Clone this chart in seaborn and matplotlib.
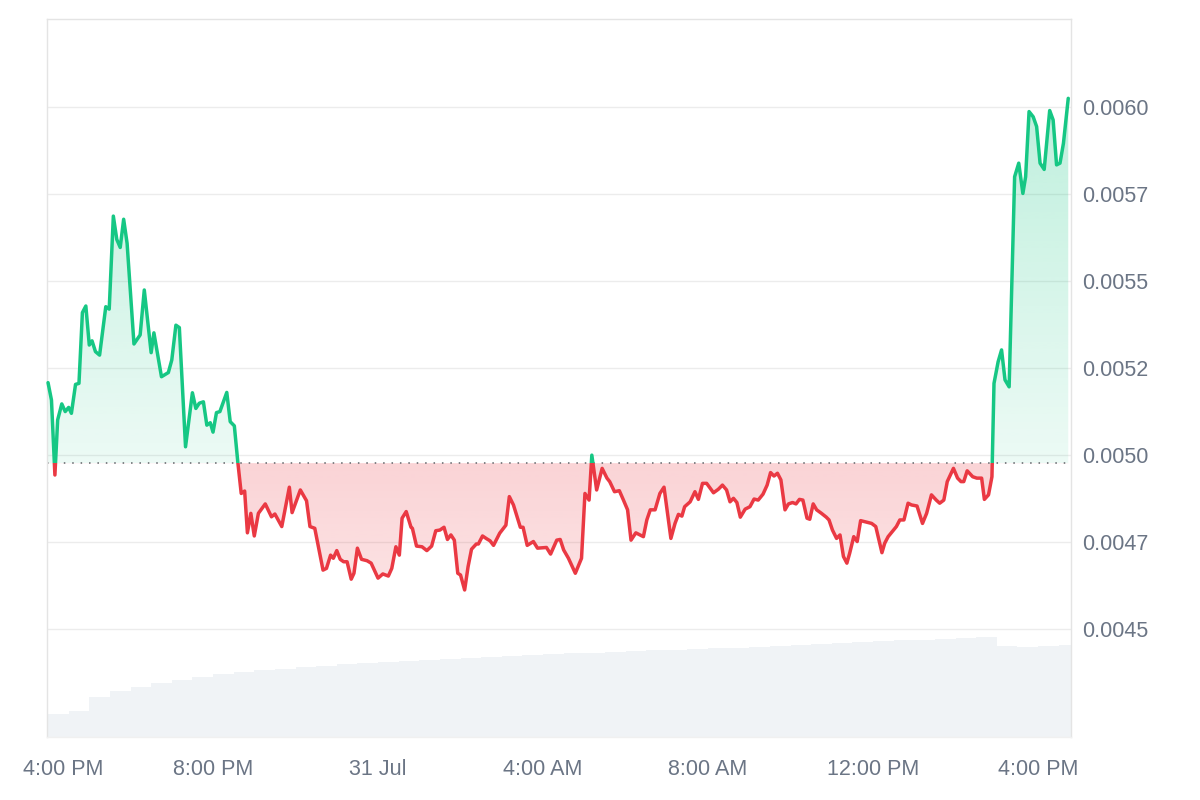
import numpy as np
import pandas as pd
import matplotlib
matplotlib.use("Agg")
import matplotlib.pyplot as plt
import matplotlib.transforms as mtransforms
import seaborn as sns
from matplotlib.patches import Rectangle
from matplotlib.path import Path
from matplotlib.colors import to_rgb

# ---------------- data ----------------
# minutes since 4:00 PM (30 Jul)
minutes = [0, 5, 10, 14, 20, 25, 30, 34, 40, 45,
           50, 55, 60, 64, 69, 75, 84, 89, 95, 100,
           105, 110, 115, 125, 134, 140, 150, 154, 165, 175,
           180, 186, 191, 200, 210, 215, 220, 226, 231, 236,
           240, 245, 250, 260, 265, 271, 276, 281, 286, 290,
           295, 300, 306, 316, 325, 330, 340, 351, 355, 367,
           376, 381, 388, 400, 405, 411, 415, 420, 425, 430,
           435, 441, 445, 450, 456, 464, 470, 480, 487, 495,
           500, 506, 511, 515, 521, 528, 530, 536, 544, 551,
           558, 564, 570, 576, 581, 586, 591, 596, 600, 606,
           611, 616, 623, 626, 632, 638, 643, 648, 657, 666,
           671, 677, 687, 691, 697, 706, 712, 725, 731, 740,
           745, 750, 757, 767, 776, 781, 787, 791, 798, 806,
           813, 817, 824, 831, 837, 843, 848, 855, 866, 871,
           876, 883, 890, 896, 906, 912, 917, 922, 926, 934,
           941, 946, 952, 958, 968, 975, 981, 987, 992, 997,
           1002, 1007, 1014, 1021, 1027, 1033, 1040, 1046, 1051, 1056,
           1061, 1066, 1072, 1077, 1083, 1088, 1093, 1098, 1104, 1108,
           1113, 1118, 1125, 1132, 1136, 1141, 1147, 1152, 1157, 1162,
           1166, 1172, 1177, 1182, 1188, 1198, 1204, 1213, 1217, 1222,
           1234, 1239, 1245, 1251, 1256, 1264, 1272, 1278, 1285, 1292,
           1297, 1303, 1308, 1317, 1323, 1328, 1332, 1337, 1345, 1351,
           1358, 1362, 1368, 1373, 1376, 1382, 1387, 1392, 1398, 1402,
           1406, 1412, 1418, 1422, 1427, 1433, 1438, 1443, 1449, 1457,
           1462, 1467, 1472, 1477, 1484]

prices = [0.005208, 0.005158, 0.004943, 0.005101, 0.005147, 0.005125, 0.005137, 0.005120, 0.005203, 0.005206,
          0.005409, 0.005428, 0.005316, 0.005328, 0.005297, 0.005287, 0.005426, 0.005419, 0.005686, 0.005619,
          0.005596, 0.005677, 0.005608, 0.005319, 0.005345, 0.005474, 0.005294, 0.005351, 0.005225, 0.005237,
          0.005273, 0.005373, 0.005366, 0.005024, 0.005179, 0.005134, 0.005149, 0.005153, 0.005086, 0.005093,
          0.005066, 0.005122, 0.005125, 0.005180, 0.005096, 0.005084, 0.004981, 0.004890, 0.004897, 0.004777,
          0.004833, 0.004768, 0.004833, 0.004860, 0.004823, 0.004831, 0.004795, 0.004908, 0.004835, 0.004900,
          0.004869, 0.004795, 0.004790, 0.004670, 0.004675, 0.004713, 0.004704, 0.004726, 0.004701, 0.004694,
          0.004694, 0.004644, 0.004661, 0.004733, 0.004701, 0.004697, 0.004690, 0.004647, 0.004659, 0.004653,
          0.004675, 0.004737, 0.004713, 0.004819, 0.004838, 0.004793, 0.004790, 0.004739, 0.004737, 0.004726,
          0.004739, 0.004783, 0.004785, 0.004793, 0.004758, 0.004771, 0.004756, 0.004661, 0.004656, 0.004613,
          0.004680, 0.004730, 0.004745, 0.004745, 0.004768, 0.004760, 0.004754, 0.004741, 0.004776, 0.004799,
          0.004881, 0.004857, 0.004793, 0.004793, 0.004741, 0.004752, 0.004733, 0.004735, 0.004716, 0.004756,
          0.004758, 0.004728, 0.004704, 0.004661, 0.004704, 0.004890, 0.004871, 0.005000, 0.004900, 0.004962,
          0.004934, 0.004924, 0.004895, 0.004898, 0.004871, 0.004843, 0.004756, 0.004777, 0.004766, 0.004814,
          0.004843, 0.004843, 0.004890, 0.004908, 0.004761, 0.004804, 0.004830, 0.004825, 0.004852, 0.004866,
          0.004895, 0.004873, 0.004919, 0.004919, 0.004892, 0.004902, 0.004914, 0.004900, 0.004866, 0.004876,
          0.004864, 0.004822, 0.004845, 0.004852, 0.004874, 0.004871, 0.004888, 0.004914, 0.004950, 0.004940,
          0.004948, 0.004929, 0.004843, 0.004860, 0.004864, 0.004860, 0.004873, 0.004871, 0.004819, 0.004816,
          0.004860, 0.004843, 0.004833, 0.004822, 0.004814, 0.004785, 0.004761, 0.004771, 0.004709, 0.004690,
          0.004718, 0.004766, 0.004752, 0.004812, 0.004809, 0.004804, 0.004795, 0.004720, 0.004747, 0.004766,
          0.004795, 0.004814, 0.004814, 0.004862, 0.004857, 0.004854, 0.004804, 0.004833, 0.004886, 0.004871,
          0.004862, 0.004871, 0.004924, 0.004962, 0.004934, 0.004924, 0.004924, 0.004955, 0.004938, 0.004934,
          0.004934, 0.004873, 0.004886, 0.004938, 0.005206, 0.005268, 0.005302, 0.005216, 0.005196, 0.005503,
          0.005799, 0.005838, 0.005751, 0.005799, 0.005986, 0.005971, 0.005943, 0.005838, 0.005820, 0.005989,
          0.005962, 0.005833, 0.005838, 0.005895, 0.006024]

baseline_price = 0.004977

# volume, half-hour buckets (arbitrary units)
vol_minutes = [30 * k for k in range(50)]
volumes = [23, 26, 40, 46, 50, 54, 57, 60, 63, 65,
           67, 68, 70, 71, 73, 74, 75, 76, 77, 78,
           79, 80, 81, 82, 83, 84, 84, 85, 86, 87,
           87, 88, 89, 89, 90, 91, 92, 93, 94, 95,
           96, 97, 97, 98, 99, 100, 91, 90, 91, 92]

y_ticks = [0.0045, 0.00475, 0.0050, 0.00525, 0.0055, 0.00575, 0.0060]
y_labels = ["0.0045", "0.0047", "0.0050", "0.0052", "0.0055", "0.0057", "0.0060"]
x_ticks = [0, 240, 480, 720, 960, 1200, 1440]
x_labels = ["4:00 PM", "8:00 PM", "31 Jul", "4:00 AM", "8:00 AM", "12:00 PM", "4:00 PM"]

# ---------------- style ----------------
GREEN = "#16c784"
RED = "#ea3943"
LABEL = "#6b7585"

sns.set_theme(style="white")
plt.rcParams["font.family"] = ["Liberation Sans", "DejaVu Sans"]

fig = plt.figure(figsize=(12, 8), dpi=100)
rect = [47 / 1200, 1 - 736.7 / 800, (1071 - 47) / 1200, (736.7 - 19) / 800]
ax_vol = fig.add_axes(rect, zorder=0)
ax = fig.add_axes(rect, zorder=1)
ax.set_facecolor("none")

xlim = (-1.5, 1488)
ylim = (0.0041919, 0.0062517)

# volume bars
ax_vol.bar(vol_minutes, volumes, width=30, align="edge", color="#f0f3f6", linewidth=0)
ax_vol.set_xlim(xlim)
ax_vol.set_ylim(0, max(volumes) * 7.18)
ax_vol.axis("off")

df = pd.DataFrame({"minute": minutes, "price": prices})

# gradient fills clipped to area between line and baseline
poly = ax.fill_between(df["minute"], df["price"], baseline_price, color="none", linewidth=0)
clip_path = Path.make_compound_path(*poly.get_paths())


def gradient(y0, y1, color, a0, a1):
    n = 256
    rgba = np.zeros((n, 1, 4))
    rgba[..., :3] = to_rgb(color)
    rgba[:, 0, 3] = np.linspace(a0, a1, n)
    im = ax.imshow(rgba, extent=[xlim[0], xlim[1], y0, y1], origin="lower",
                   aspect="auto", interpolation="bilinear", zorder=1)
    im.set_clip_path(clip_path, transform=ax.transData)


gradient(baseline_price, ylim[1], GREEN, 0.08, 0.32)
gradient(ylim[0], baseline_price, RED, 0.06, 0.22)

# baseline dotted
ax.axhline(baseline_price, color="#5f6368", lw=1.1, linestyle=(0, (1, 4.5)), zorder=2)

# price line, green above baseline, red below
sns.lineplot(data=df, x="minute", y="price", ax=ax, color=GREEN, linewidth=2.5,
             estimator=None, sort=False, legend=False, zorder=3)
ln = ax.lines[-1]
ln.set_clip_path(Rectangle((xlim[0] - 10, baseline_price), 2000, 0.01, transform=ax.transData))
ln.set_solid_joinstyle("round")
sns.lineplot(data=df, x="minute", y="price", ax=ax, color=RED, linewidth=2.5,
             estimator=None, sort=False, legend=False, zorder=3)
ln = ax.lines[-1]
ln.set_clip_path(Rectangle((xlim[0] - 10, baseline_price - 0.01), 2000, 0.01, transform=ax.transData))
ln.set_solid_joinstyle("round")

ax.set_xlim(xlim)
ax.set_ylim(ylim)
ax.set_xlabel("")
ax.set_ylabel("")

ax.set_yticks(y_ticks)
ax.set_yticklabels(y_labels)
ax.yaxis.tick_right()
ax.set_xticks(x_ticks)
ax.set_xticklabels(x_labels)
ax.grid(axis="y", color="#ececec", lw=1)
ax.grid(axis="x", visible=False)
ax.set_axisbelow(True)
ax.tick_params(axis="y", length=0, pad=8, labelsize=15.5, labelcolor=LABEL)
ax.tick_params(axis="x", length=0, pad=16, labelsize=15.5, labelcolor=LABEL)

for s in ax.spines.values():
    s.set_color("#e4e4e4")
    s.set_linewidth(1)
ax.spines["bottom"].set_color("#f0f0f0")

# shift first x label to the right (keeps it inside the figure)
lbl = ax.xaxis.get_major_ticks()[0].label1
lbl.set_transform(lbl.get_transform() + mtransforms.ScaledTranslation(15 / 100, 0, fig.dpi_scale_trans))

fig.savefig("out.png", dpi=100)
